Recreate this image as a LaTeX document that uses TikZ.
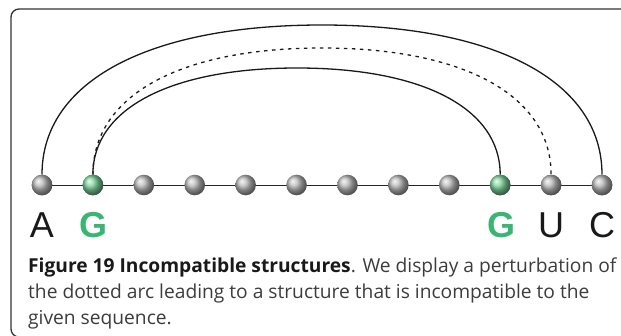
\documentclass[tikz,border=0pt]{standalone}
\usepackage{fontspec}
\setmainfont{Liberation Sans}
\newfontfamily\capfont{Open Sans}
\usetikzlibrary{calc}
\definecolor{basegreen}{RGB}{58,181,116}
\definecolor{ballgreen}{RGB}{125,212,155}
\definecolor{captxt}{RGB}{60,60,60}
\definecolor{frameclr}{RGB}{50,50,50}
\begin{document}
\begin{tikzpicture}[x=1pt,y=-1pt,
  bead/.style={circle,minimum size=20.6pt,inner sep=0pt,shading=ball,ball color=gray!55},
  gbead/.style={bead,ball color=ballgreen},
  arcline/.style={line width=1.3pt,black!90},
  dotarc/.style={line width=1.3pt,black!90,dash pattern=on 3.5pt off 4.5pt},
  backbone/.style={line width=1pt,black!85},
  basech/.style={anchor=base,font=\fontsize{36}{36}\selectfont,text=black!90,inner sep=0pt},
  gbase/.style={basech,font=\fontsize{36}{36}\selectfont\bfseries,text=basegreen},
  capline/.style={anchor=base west,inner sep=0pt,font=\capfont\fontsize{19.2}{22}\selectfont,text=captxt}]
\useasboundingbox (0,0) rectangle (621,335);
% frame
\draw[line width=1.3pt,frameclr,rounded corners=8pt] (660,9) -- (11,9) -- (11,337) -- (660,337);
% positions
\foreach \i in {1,...,12}{\coordinate (p\i) at ({42+(\i-1)*50.909},185);}
\draw[backbone] (p1) -- (p12);
% beads
\node[bead]  (n1)  at (p1) {};
\node[gbead] (n2)  at (p2) {};
\foreach \i in {3,...,9}{\node[bead] (n\i) at (p\i) {};}
\node[gbead] (n10) at (p10) {};
\node[bead]  (n11) at (p11) {};
\node[bead]  (n12) at (p12) {};
% apexes
\coordinate (topO) at (322,25);
\coordinate (topD) at (322,48);
\coordinate (topI) at (297,68);
% arcs
\draw[arcline] (n1.north) .. controls +(0,-93) and +(-174,0) .. (topO)
               .. controls +(174,0) and +(0,-93) .. (n12.north);
\draw[dotarc] (n2.north) .. controls +(0,-79) and +(-142,0) .. (topD)
               .. controls +(142,0) and +(0,-79) .. (n11.north);
\draw[arcline] (n2.north) .. controls +(0,-66) and +(-126,0) .. (topI)
               .. controls +(126,0) and +(0,-66) .. (n10.north);
% redraw beads on top of arc ends
\node[bead]  at (p1) {};
\node[gbead] at (p2) {};
\node[gbead] at (p10) {};
\node[bead]  at (p11) {};
\node[bead]  at (p12) {};
% letters
\node[basech] (lA) at (42,237) {A};
\node[gbase]  (lG1) at (93,237) {G};
\node[gbase]  (lG2) at (501,237) {G};
\node[basech] (lU) at (551,237) {U};
\node[basech] (lC) at (602,237) {C};
% caption
\node[capline] (c1) at (28,272) {\textbf{\color{black!90}Figure 19 Incompatible structures}. We display a perturbation of};
\node[capline] (c2) at (28,298) {the dotted arc leading to a structure that is incompatible to the};
\node[capline] (c3) at (28,324) {given sequence.};
\end{tikzpicture}
\end{document}
